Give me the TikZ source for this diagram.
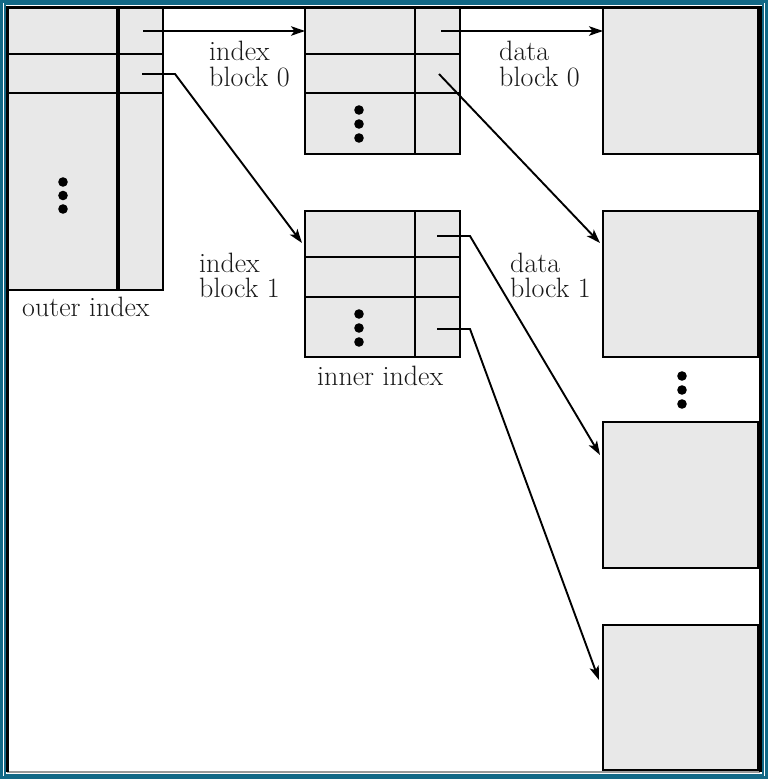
\documentclass[tikz,border=0pt]{standalone}
\usetikzlibrary{arrows.meta,calc}
\definecolor{boxgray}{RGB}{232,232,232}
\definecolor{frameteal}{RGB}{18,104,134}
\begin{document}
\begin{tikzpicture}[x=1pt,y=-1pt,
  blk/.style={draw=black, line width=2.6pt, fill=boxgray, inner sep=0pt, outer sep=0pt, anchor=north west},
  cell/.style={line width=2.6pt},
  ptr/.style={line width=1.9pt, -{Stealth[length=14pt,width=9.5pt,inset=3.5pt]}},
  lbl/.style={inner sep=0pt, anchor=north west, align=left, font=\fontsize{28}{25.5}\selectfont, text=black!90},
  dot/.style={fill=black}]
\useasboundingbox (0,0) rectangle (768,779);
% frame
\draw[frameteal, line width=3pt] (1.5,1.5) rectangle (766.5,777.5);
\draw[frameteal, line width=2pt] (5,4) rectangle (763,774.5);
\draw[black!40, line width=2pt] (7,772) -- (760,772);
% outer index
\node[blk, minimum width=155pt, minimum height=282pt] (outer) at (8,8) {};
\draw[cell, line width=3.5pt] (118,8) -- (118,290);
\draw[cell] (8,54) -- (163,54);
\draw[cell] (8,93) -- (163,93);
\foreach \y in {182,195.5,209} \fill[dot] (63,\y) circle (4.8);
% index block 0
\node[blk, minimum width=155pt, minimum height=146pt] (i0) at (305,8) {};
\draw[cell] (415,8) -- (415,154);
\draw[cell] (305,54) -- (460,54);
\draw[cell] (305,93) -- (460,93);
\foreach \y in {110,124,138} \fill[dot] (359,\y) circle (4.8);
% index block 1
\node[blk, minimum width=155pt, minimum height=146pt] (i1) at (305,211) {};
\draw[cell] (415,211) -- (415,357);
\draw[cell] (305,257) -- (460,257);
\draw[cell] (305,297) -- (460,297);
\foreach \y in {314,328,342} \fill[dot] (359,\y) circle (4.8);
% data blocks
\node[blk, minimum width=155pt, minimum height=146pt] (d0) at (603,8) {};
\node[blk, minimum width=155pt, minimum height=146pt] (d1) at (603,211) {};
\node[blk, minimum width=155pt, minimum height=146pt] (d2) at (603,422) {};
\node[blk, minimum width=155pt, minimum height=145pt] (d3) at (603,625) {};
\foreach \y in {376,390,404} \fill[dot] (682,\y) circle (4.8);
% black frame (left, top, right)
\draw[black, line width=3pt] (7.5,772) -- (7.5,7) -- (760,7) -- (760,772);
% pointer coordinates
\coordinate (po0) at (143,31);
\coordinate (po1) at (142,74);
\coordinate (po1b) at (175,74);
\coordinate (pi00) at (441,31);
\coordinate (pi01) at (439,74);
\coordinate (pi10) at (437,236);
\coordinate (pi10b) at (470,236);
\coordinate (pi12) at (437,329);
\coordinate (pi12b) at (470,329);
% pointers
\draw[ptr] (po0) -- (i0.north west |- po0);
\draw[ptr] (po1) -- (po1b) -- ($(i1.north west)+(-3,32)$);
\draw[ptr] (pi00) -- (d0.north west |- pi00);
\draw[ptr] (pi01) -- ($(d1.north west)+(-3,32)$);
\draw[ptr] (pi10) -- (pi10b) -- ($(d2.north west)+(-3,33)$);
\draw[ptr] (pi12) -- (pi12b) -- ($(d3.north west)+(-4,55)$);
% labels
\node[lbl] (lib0) at (209,41) {index\\block 0};
\node[lbl] (ldb0) at (499,41) {data\\block 0};
\node[lbl] (lib1) at (199,252.5) {index\\block 1};
\node[lbl] (ldb1) at (510,252.5) {data\\block 1};
\node[lbl] (lout) at (22,296.5) {outer index};
\node[lbl] (linn) at (317,365.5) {inner index};
\end{tikzpicture}
\end{document}
